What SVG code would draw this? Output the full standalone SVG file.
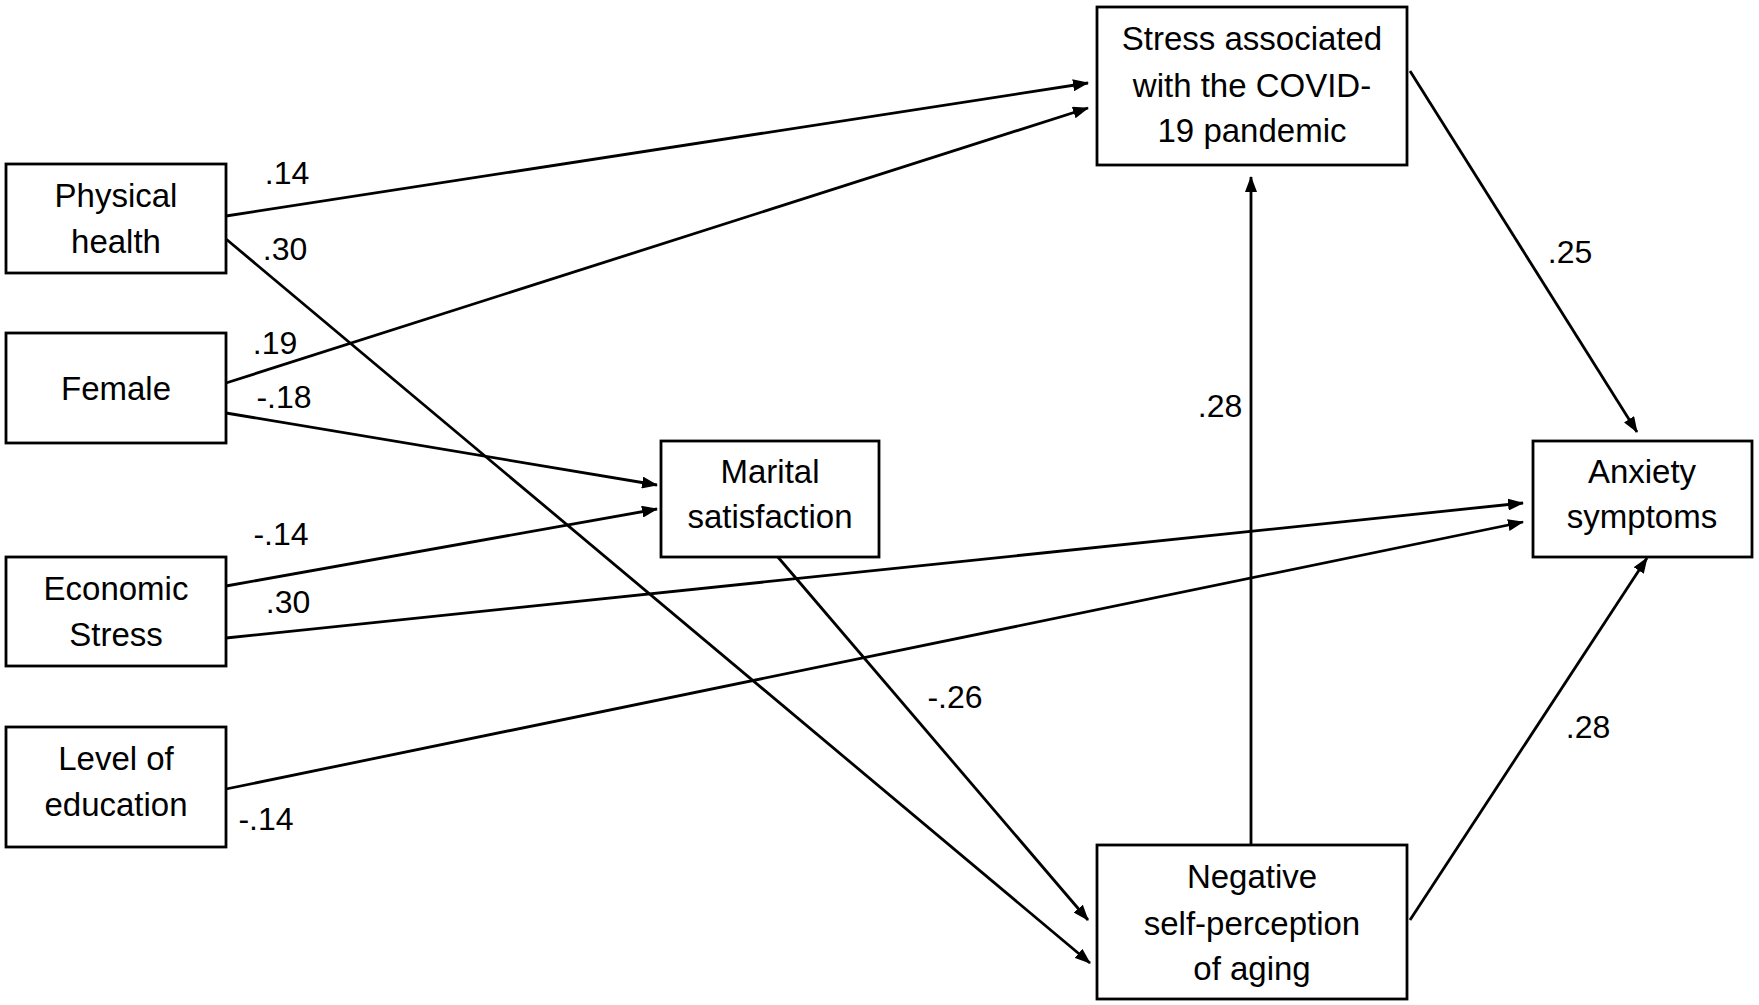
<svg xmlns="http://www.w3.org/2000/svg" width="1759" height="1005" viewBox="0 0 1759 1005">
<style>
.box{fill:#fff;stroke:#000;stroke-width:2.8}
.t{font-family:"Liberation Sans",Arial,sans-serif;font-size:33px;fill:#000;text-anchor:middle}
.l{font-family:"Liberation Sans",Arial,sans-serif;font-size:32px;fill:#000;text-anchor:middle}
.c{stroke:#000;stroke-width:2.8;fill:none;marker-end:url(#ah)}
</style>
<defs>
<marker id="ah" viewBox="0 0 16 12" refX="15" refY="6" markerWidth="16" markerHeight="12" markerUnits="userSpaceOnUse" orient="auto">
<path d="M0,0 L16,6 L0,12 Z" fill="#000"/>
</marker>
</defs>
<rect width="1759" height="1005" fill="#fff"/>
<g id="connectors">
<line class="c" x1="226" y1="216" x2="1088" y2="83"/>
<line class="c" x1="226" y1="383" x2="1088" y2="108"/>
<line class="c" x1="226" y1="239" x2="1090" y2="963"/>
<line class="c" x1="226" y1="413" x2="657" y2="485"/>
<line class="c" x1="226" y1="586" x2="657" y2="509"/>
<line class="c" x1="226" y1="638" x2="1523" y2="503"/>
<line class="c" x1="226" y1="789" x2="1523" y2="522"/>
<line class="c" x1="777" y1="556" x2="1088" y2="920"/>
<line class="c" x1="1251" y1="845" x2="1251" y2="177"/>
<line class="c" x1="1410" y1="71" x2="1637" y2="432"/>
<line class="c" x1="1410" y1="920" x2="1647" y2="558"/>
</g>
<g id="labels">
<text class="l" x="287" y="184">.14</text>
<text class="l" x="285" y="260">.30</text>
<text class="l" x="275" y="354">.19</text>
<text class="l" x="284" y="408">-.18</text>
<text class="l" x="281" y="545">-.14</text>
<text class="l" x="288" y="613">.30</text>
<text class="l" x="266" y="830">-.14</text>
<text class="l" x="1570" y="263">.25</text>
<text class="l" x="1220" y="417">.28</text>
<text class="l" x="955" y="708">-.26</text>
<text class="l" x="1588" y="738">.28</text>
</g>
<g id="physical">
<rect class="box" x="6" y="164" width="220" height="109"/>
<text class="t" x="116" y="207">Physical</text>
<text class="t" x="116" y="253">health</text>
</g>
<g id="female">
<rect class="box" x="6" y="333" width="220" height="110"/>
<text class="t" x="116" y="400">Female</text>
</g>
<g id="economic">
<rect class="box" x="6" y="557" width="220" height="109"/>
<text class="t" x="116" y="600">Economic</text>
<text class="t" x="116" y="646">Stress</text>
</g>
<g id="education">
<rect class="box" x="6" y="727" width="220" height="120"/>
<text class="t" x="116" y="770">Level of</text>
<text class="t" x="116" y="816">education</text>
</g>
<g id="marital">
<rect class="box" x="661" y="441" width="218" height="116"/>
<text class="t" x="770" y="483">Marital</text>
<text class="t" x="770" y="528">satisfaction</text>
</g>
<g id="covid">
<rect class="box" x="1097" y="7" width="310" height="158"/>
<text class="t" x="1252" y="50">Stress associated</text>
<text class="t" x="1252" y="97">with the COVID-</text>
<text class="t" x="1252" y="142">19 pandemic</text>
</g>
<g id="negative">
<rect class="box" x="1097" y="845" width="310" height="154"/>
<text class="t" x="1252" y="888">Negative</text>
<text class="t" x="1252" y="935">self-perception</text>
<text class="t" x="1252" y="980">of aging</text>
</g>
<g id="anxiety">
<rect class="box" x="1533" y="441" width="219" height="116"/>
<text class="t" x="1642" y="483">Anxiety</text>
<text class="t" x="1642" y="528">symptoms</text>
</g>
</svg>
